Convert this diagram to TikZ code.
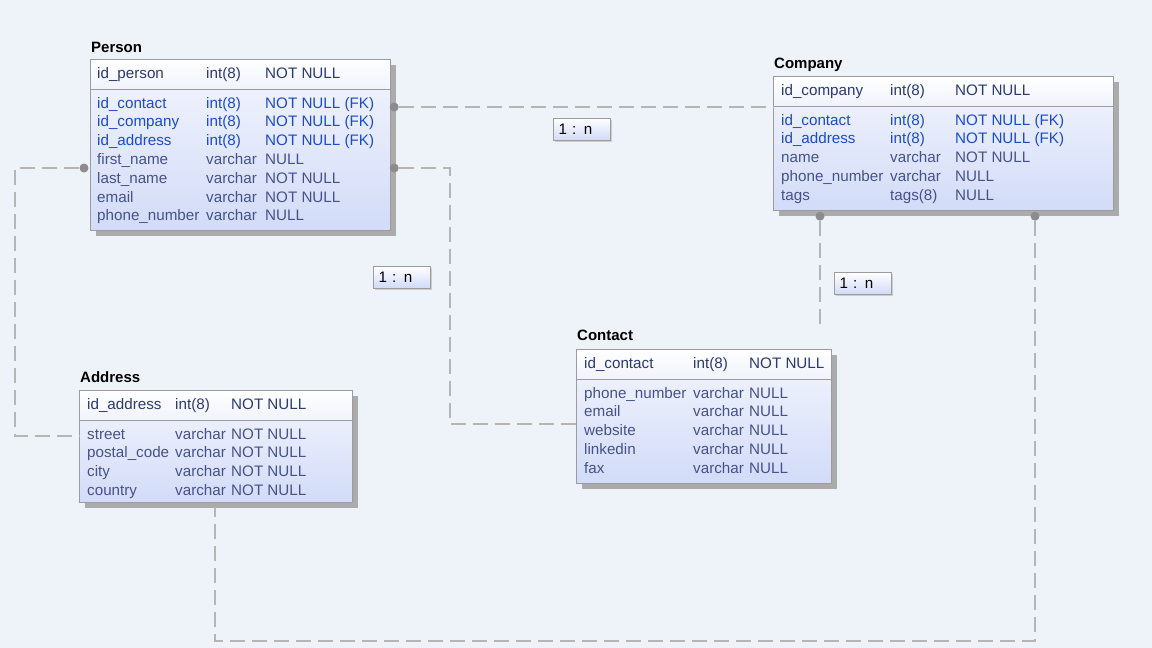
\documentclass[tikz,border=0pt]{standalone}
\usepackage{fontspec}
\setmainfont{Liberation Sans}
\usepackage{xcolor}
\usetikzlibrary{calc,positioning,shadows}

\definecolor{bgc}{HTML}{EEF3F9}
\definecolor{boxline}{HTML}{9C9C9C}
\definecolor{shadowc}{HTML}{ABABAB}
\definecolor{bodytop}{HTML}{F4F6FE}
\definecolor{bodybot}{HTML}{D2DBF8}
\definecolor{headbot}{HTML}{F0F3FC}
\definecolor{linkc}{HTML}{B5B5B5}
\definecolor{dotc}{HTML}{8C8C8C}
\definecolor{pkc}{HTML}{2C3A70}
\definecolor{fkc}{HTML}{1C4CCB}
\definecolor{fdc}{HTML}{46528A}

\begin{document}
\begin{tikzpicture}[x=1pt,y=-1pt,font=\fontsize{15.2}{18}\selectfont,
  tbl/.style={anchor=north west,inner sep=0,draw=boxline,line width=1.2pt,top color=bodytop,bottom color=bodybot,drop shadow={shadow xshift=5pt,shadow yshift=-5pt,fill=shadowc,opacity=1}},
  hdr/.style={anchor=north west,inner sep=0,draw=boxline,line width=1.2pt,top color=white,bottom color=headbot,minimum height=30pt},
  ttl/.style={anchor=base west,inner sep=0,font=\fontsize{15}{18}\selectfont\bfseries},
  pk/.style={anchor=base west,inner sep=0,text=pkc},
  fk/.style={anchor=base west,inner sep=0,text=fkc},
  fd/.style={anchor=base west,inner sep=0,text=fdc},
  link/.style={draw=linkc,line width=2.4pt,dash pattern=on 15pt off 7pt},
  dot/.style={circle,fill=dotc,inner sep=0,minimum size=9pt},
  card/.style={draw=boxline,line width=1pt,top color=white,bottom color=bodybot,inner xsep=5pt,text width=47pt,minimum height=22pt,align=left,drop shadow={shadow xshift=1.5pt,shadow yshift=-1.5pt,fill=shadowc!60,opacity=1}}]

\fill[bgc] (0,0) rectangle (1152,648);
\useasboundingbox (0,0) rectangle (1152,648);

% Person
\node[tbl,minimum width=300pt,minimum height=171pt] (person) at (90,59) {};
\node[hdr,minimum width=300pt] (person-h) at (person.north west) {};
\node[ttl] (person-ttl) at ($(person.north west)+(1,-7)$) {Person};
\node[pk] (person-n0) at ($(person.north west)+(7,19)$) {id\_person};
\node[pk] (person-y0) at ($(person.north west)+(116,19)$) {int(8)};
\node[pk] (person-k0) at ($(person.north west)+(175,19)$) {NOT NULL};
\foreach \st/\nm/\ty/\nl [count=\i] in {fk/id\_contact/int(8)/NOT NULL (FK),fk/id\_company/int(8)/NOT NULL (FK),fk/id\_address/int(8)/NOT NULL (FK),fd/first\_name/varchar/NULL,fd/last\_name/varchar/NOT NULL,fd/email/varchar/NOT NULL,fd/phone\_number/varchar/NULL}{
  \node[\st] (person-n\i) at ($(person.north west)+(7,{49+18.8*(\i-1)})$) {\nm};
  \node[\st] (person-y\i) at ($(person.north west)+(116,{49+18.8*(\i-1)})$) {\ty};
  \node[\st] (person-k\i) at ($(person.north west)+(175,{49+18.8*(\i-1)})$) {\nl};
}

% Company
\node[tbl,minimum width=340pt,minimum height=134pt] (company) at (773,76) {};
\node[hdr,minimum width=340pt] (company-h) at (company.north west) {};
\node[ttl] (company-ttl) at ($(company.north west)+(1,-8)$) {Company};
\node[pk] (company-n0) at ($(company.north west)+(8,19)$) {id\_company};
\node[pk] (company-y0) at ($(company.north west)+(117,19)$) {int(8)};
\node[pk] (company-k0) at ($(company.north west)+(182,19)$) {NOT NULL};
\foreach \st/\nm/\ty/\nl [count=\i] in {fk/id\_contact/int(8)/NOT NULL (FK),fk/id\_address/int(8)/NOT NULL (FK),fd/name/varchar/NOT NULL,fd/phone\_number/varchar/NULL,fd/tags/tags(8)/NULL}{
  \node[\st] (company-n\i) at ($(company.north west)+(8,{49+18.8*(\i-1)})$) {\nm};
  \node[\st] (company-y\i) at ($(company.north west)+(117,{49+18.8*(\i-1)})$) {\ty};
  \node[\st] (company-k\i) at ($(company.north west)+(182,{49+18.8*(\i-1)})$) {\nl};
}

% Contact
\node[tbl,minimum width=255pt,minimum height=134pt] (contact) at (576,349) {};
\node[hdr,minimum width=255pt] (contact-h) at (contact.north west) {};
\node[ttl] (contact-ttl) at ($(contact.north west)+(1,-9)$) {Contact};
\node[pk] (contact-n0) at ($(contact.north west)+(8,19)$) {id\_contact};
\node[pk] (contact-y0) at ($(contact.north west)+(117,19)$) {int(8)};
\node[pk] (contact-k0) at ($(contact.north west)+(173,19)$) {NOT NULL};
\foreach \st/\nm/\ty/\nl [count=\i] in {fd/phone\_number/varchar/NULL,fd/email/varchar/NULL,fd/website/varchar/NULL,fd/linkedin/varchar/NULL,fd/fax/varchar/NULL}{
  \node[\st] (contact-n\i) at ($(contact.north west)+(8,{49+18.8*(\i-1)})$) {\nm};
  \node[\st] (contact-y\i) at ($(contact.north west)+(117,{49+18.8*(\i-1)})$) {\ty};
  \node[\st] (contact-k\i) at ($(contact.north west)+(173,{49+18.8*(\i-1)})$) {\nl};
}

% Address
\node[tbl,minimum width=273pt,minimum height=112pt] (address) at (79,390) {};
\node[hdr,minimum width=273pt] (address-h) at (address.north west) {};
\node[ttl] (address-ttl) at ($(address.north west)+(1,-8)$) {Address};
\node[pk] (address-n0) at ($(address.north west)+(8,19)$) {id\_address};
\node[pk] (address-y0) at ($(address.north west)+(96,19)$) {int(8)};
\node[pk] (address-k0) at ($(address.north west)+(152,19)$) {NOT NULL};
\foreach \st/\nm/\ty/\nl [count=\i] in {fd/street/varchar/NOT NULL,fd/postal\_code/varchar/NOT NULL,fd/city/varchar/NOT NULL,fd/country/varchar/NOT NULL}{
  \node[\st] (address-n\i) at ($(address.north west)+(8,{49+18.8*(\i-1)})$) {\nm};
  \node[\st] (address-y\i) at ($(address.north west)+(96,{49+18.8*(\i-1)})$) {\ty};
  \node[\st] (address-k\i) at ($(address.north west)+(152,{49+18.8*(\i-1)})$) {\nl};
}

% relation end points
\node[dot] (p-dot1) at ($(person.north east)+(3,48)$) {};
\node[dot] (p-dot2) at ($(person.north east)+(3,109)$) {};
\node[dot] (p-dot3) at ($(person.north west)+(-6,109)$) {};
\node[dot] (c-dot1) at ($(company.south west)+(47,5)$) {};
\node[dot] (c-dot2) at ($(company.south west)+(262,5)$) {};
\coordinate (bend2) at (450,424);
\coordinate (bend3) at (15,436);
\coordinate (end4) at (820,327);
\coordinate (bend5) at (215,641);

% relations
\draw[link] (p-dot1) -- (p-dot1 -| company.west);
\draw[link] (p-dot2) -| (bend2) -- (bend2 -| contact.west);
\draw[link] (p-dot3) -| (bend3) -- (bend3 -| address.west);
\draw[link] (c-dot1) -- (end4);
\draw[link] (c-dot2) |- (bend5) -- ($(bend5 |- address.south)+(0,4)$);

\node[card] (card1) at (582,129) {1 : n};
\node[card] (card2) at (402,277) {1 : n};
\node[card] (card3) at (863,283) {1 : n};
\end{tikzpicture}
\end{document}
